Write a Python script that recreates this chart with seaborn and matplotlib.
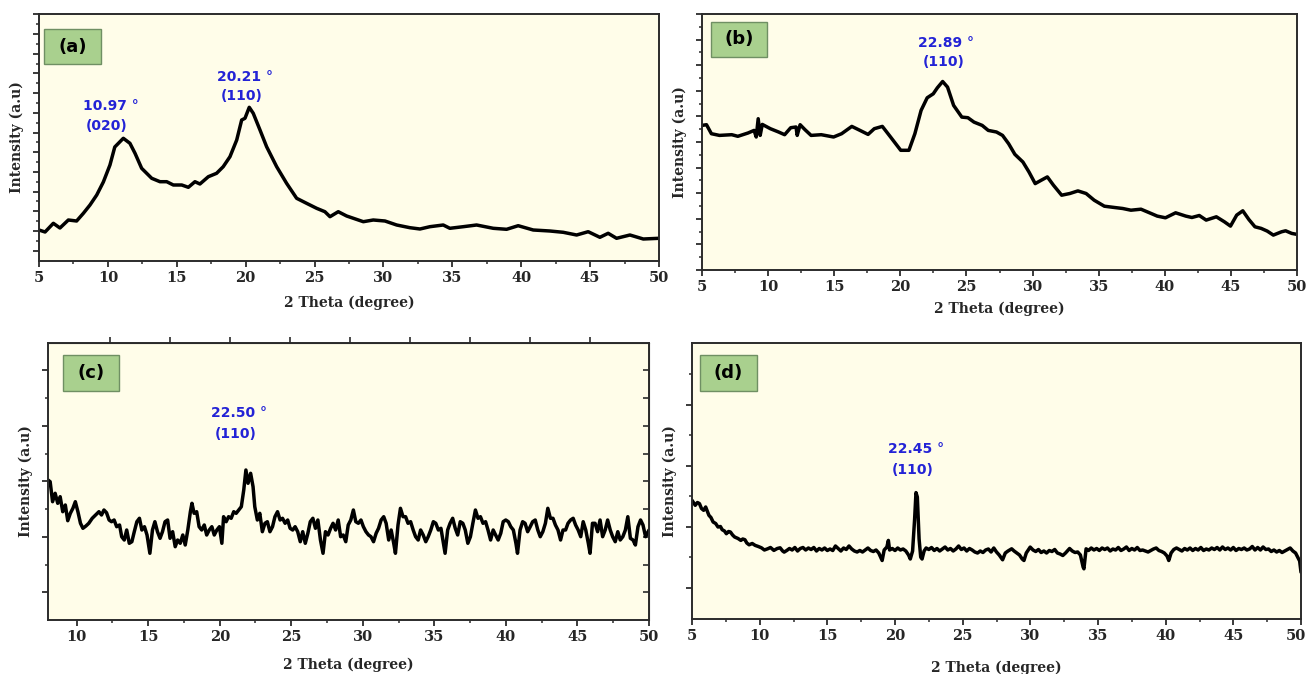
import numpy as np
import pandas as pd
import seaborn as sns
import matplotlib.pyplot as plt
from matplotlib.patches import Rectangle
from matplotlib.ticker import MultipleLocator, FixedLocator, NullFormatter
import matplotlib.transforms as mtransforms

# ---------------- data (2 theta in degree, intensity in a.u.) ----------------
a_points = [(5.00, 31), (5.44, 29), (6.04, 37.7), (6.52, 33), (7.13, 41), (7.73, 40), (8.22, 47.7),
            (8.70, 56), (9.19, 66), (9.67, 79), (10.15, 96), (10.50, 114), (11.12, 122.7), (11.60, 117.7),
            (11.97, 107.7), (12.45, 92.7), (13.18, 82.7), (13.78, 79.3), (14.27, 79.3), (14.75, 76),
            (15.36, 76), (15.84, 73.7), (16.32, 79.3), (16.68, 77), (17.29, 84.3), (17.89, 87.7),
            (18.37, 94.3), (18.86, 104.3), (19.35, 121), (19.71, 141), (19.95, 142.7), (20.26, 153.7),
            (20.55, 147.7), (21.04, 131), (21.52, 114.3), (22.25, 94.3), (22.97, 77.7), (23.70, 62.7),
            (24.42, 57.7), (25.15, 52.7), (25.75, 49.3), (26.12, 44.3), (26.72, 49.3), (27.33, 45),
            (28.54, 39.3), (29.26, 41), (30.11, 40), (30.96, 36), (31.92, 33.3), (32.65, 32), (33.37, 34.3),
            (34.34, 36), (34.82, 32.7), (35.79, 34.3), (36.76, 36), (37.97, 32.7), (38.94, 31.7),
            (39.78, 35.3), (40.87, 31), (42.08, 30), (43.05, 28.7), (44.02, 26), (44.86, 29.3),
            (45.71, 23.7), (46.31, 27.7), (46.92, 22.7), (47.89, 26), (48.86, 22), (50.00, 22.7)]

b_points = [(5.00, 144.6), (5.34, 145.3), (5.71, 136.3), (6.32, 134.6), (7.25, 135.3), (7.71, 133.7),
            (8.48, 137), (8.94, 139.6), (9.10, 133), (9.25, 151.3), (9.40, 134.6), (9.56, 145.6),
            (10.17, 141.3), (10.79, 138), (11.25, 135.3), (11.71, 142.3), (12.11, 143), (12.20, 134.6),
            (12.42, 145.3), (12.79, 140.3), (13.25, 134.6), (14.02, 135.3), (14.95, 133), (15.56, 136.3),
            (16.33, 143.6), (16.95, 139.6), (17.56, 135.6), (18.03, 141.3), (18.64, 143.6), (19.26, 133),
            (20.03, 119.7), (20.65, 119.7), (21.10, 136.3), (21.57, 159.6), (22.03, 172.2), (22.49, 176.2),
            (22.80, 182.2), (23.20, 188.5), (23.57, 182.9), (24.03, 164.6), (24.65, 152.9), (25.11, 152.3),
            (25.57, 147.9), (26.19, 144.6), (26.65, 139.6), (27.27, 138), (27.73, 134.6), (28.19, 126.3),
            (28.66, 115.7), (29.27, 108), (29.73, 98), (30.20, 86.4), (30.66, 89.8), (31.12, 93.1),
            (31.58, 84.8), (32.20, 74.8), (32.82, 76.5), (33.43, 79.1), (34.05, 76.5), (34.66, 69.8),
            (35.43, 63.8), (36.20, 62.5), (36.82, 61.5), (37.44, 59.8), (38.20, 60.8), (38.97, 56.5),
            (39.43, 53.9), (40.05, 52.2), (40.82, 57.2), (41.59, 53.9), (42.05, 52.5), (42.61, 54.5),
            (43.13, 49.9), (43.90, 53.2), (44.51, 48.2), (44.97, 43.9), (45.44, 54.9), (45.90, 59.2),
            (46.36, 50.5), (46.82, 43.2), (47.29, 41.6), (47.75, 38.9), (48.21, 34.9), (48.83, 38.2),
            (49.14, 39.2), (49.60, 36.6), (50.00, 35.6)]

c_points = [(8.00, 140), (8.15, 138.3), (8.32, 118.3), (8.50, 126.7), (8.68, 116.7), (8.85, 123.3),
            (9.03, 108.3), (9.21, 115), (9.38, 99.3), (9.56, 106.7), (9.74, 111.7), (9.91, 118.3),
            (10.09, 108.3), (10.27, 96.7), (10.44, 91.7), (10.65, 94), (10.85, 96.7), (11.09, 101.7),
            (11.33, 105), (11.56, 108.3), (11.74, 105), (11.91, 110), (12.09, 107.3), (12.27, 100),
            (12.44, 98.3), (12.62, 100), (12.80, 93.3), (13.00, 95), (13.15, 83.3), (13.33, 80),
            (13.50, 90), (13.68, 76.7), (13.86, 78.3), (14.03, 88.3), (14.21, 98.3), (14.39, 101.7),
            (14.56, 90), (14.74, 93.3), (14.92, 85), (15.12, 66.7), (15.30, 90), (15.47, 98.3),
            (15.65, 88.3), (15.83, 81.7), (16.00, 88.3), (16.18, 98.3), (16.36, 100), (16.53, 81.7),
            (16.71, 88.3), (16.89, 73.3), (17.06, 80), (17.24, 76.7), (17.42, 85), (17.59, 75),
            (17.77, 90), (17.95, 108.3), (18.06, 116.7), (18.21, 106.7), (18.39, 108.3), (18.56, 93.3),
            (18.74, 90), (18.92, 95), (19.09, 85), (19.27, 90), (19.45, 93.3), (19.62, 85), (19.80, 90),
            (19.98, 93.3), (20.15, 76.7), (20.27, 103.3), (20.45, 98.3), (20.62, 103.3), (20.80, 101.7),
            (20.98, 108.3), (21.15, 106.7), (21.33, 110), (21.51, 113.3), (21.68, 130), (21.83, 150),
            (21.98, 136.7), (22.16, 146.7), (22.33, 133.3), (22.45, 113.3), (22.63, 100), (22.80, 106.7),
            (22.98, 88.3), (23.16, 96.7), (23.33, 98.3), (23.51, 88.3), (23.69, 93.3), (23.86, 103.3),
            (24.04, 108.3), (24.22, 100), (24.39, 101.7), (24.57, 96.7), (24.75, 100), (24.92, 91.7),
            (25.10, 90), (25.27, 93.3), (25.45, 88.3), (25.63, 78.3), (25.80, 88.3), (25.98, 76.7),
            (26.16, 86.7), (26.33, 98.3), (26.51, 101.7), (26.69, 91.7), (26.86, 100), (27.04, 80),
            (27.22, 66.7), (27.39, 88.3), (27.57, 85), (27.75, 91.7), (27.92, 96.7), (28.10, 90),
            (28.28, 100), (28.45, 83.3), (28.63, 85), (28.81, 78.3), (28.98, 95), (29.16, 100),
            (29.34, 110), (29.51, 98.3), (29.69, 96.7), (29.87, 100), (30.04, 93.3), (30.22, 88.3),
            (30.40, 85), (30.57, 83.3), (30.75, 78.3), (30.93, 86.7), (31.10, 91.7), (31.28, 100),
            (31.46, 103.3), (31.63, 96.7), (31.81, 80), (31.98, 90), (32.16, 76.7), (32.28, 66.7),
            (32.46, 95), (32.63, 111.7), (32.81, 103.3), (32.99, 103.3), (33.16, 96.7), (33.34, 98.3),
            (33.52, 90), (33.69, 83.3), (33.87, 80), (34.04, 90), (34.22, 85), (34.40, 78.3),
            (34.57, 83.3), (34.75, 90), (34.93, 98.3), (35.10, 96.7), (35.28, 90), (35.46, 91.7),
            (35.63, 76.7), (35.75, 66.7), (35.93, 90), (36.10, 96.7), (36.28, 101.7), (36.46, 91.7),
            (36.63, 85), (36.81, 98.3), (36.99, 96.7), (37.16, 90), (37.34, 76.7), (37.52, 83.3),
            (37.69, 96.7), (37.87, 110), (38.05, 101.7), (38.22, 103.3), (38.40, 96.7), (38.58, 98.3),
            (38.75, 90), (38.93, 80), (39.11, 90), (39.28, 85), (39.46, 80), (39.64, 86.7),
            (39.81, 98.3), (39.99, 100), (40.17, 98.3), (40.34, 93.3), (40.52, 90), (40.70, 76.7),
            (40.81, 66.7), (40.99, 90), (41.17, 98.3), (41.34, 96.7), (41.52, 88.3), (41.70, 93.3),
            (41.87, 98.3), (42.05, 100), (42.23, 90), (42.40, 83.3), (42.58, 88.3), (42.76, 96.7),
            (42.93, 111.7), (43.11, 101.7), (43.29, 101.7), (43.46, 95), (43.64, 90), (43.82, 80),
            (43.99, 90), (44.17, 90), (44.34, 96.7), (44.52, 100), (44.70, 101.7), (44.87, 95),
            (45.05, 90), (45.23, 83.3), (45.40, 98.3), (45.58, 90), (45.76, 76.7), (45.88, 66.7),
            (46.05, 96.7), (46.23, 96.7), (46.41, 88.3), (46.58, 100), (46.76, 83.3), (46.94, 90),
            (47.11, 100), (47.29, 90), (47.46, 83.3), (47.64, 78.3), (47.82, 88.3), (47.99, 80),
            (48.17, 83.3), (48.35, 90), (48.52, 103.3), (48.70, 81.7), (48.88, 80), (49.05, 75),
            (49.23, 93.3), (49.41, 100), (49.58, 95), (49.76, 83.3), (50.00, 90)]

d_points = [(5.00, 118.7), (5.24, 113.7), (5.40, 116.5), (5.55, 115.4), (5.70, 110.5), (5.86, 108.7),
            (6.01, 112), (6.25, 103.7), (6.40, 101.5), (6.56, 97), (6.75, 95.5), (6.92, 92), (7.10, 92.5),
            (7.23, 89.3), (7.40, 88), (7.54, 85.3), (7.70, 87.5), (7.84, 87), (8.00, 84), (8.15, 82),
            (8.40, 80.5), (8.61, 78.6), (8.75, 80), (8.91, 79.3), (9.05, 76), (9.22, 74.2), (9.45, 75.5),
            (9.67, 73.6), (9.90, 72.5), (10.13, 71.2), (10.35, 69), (10.59, 70.2), (10.80, 71.5),
            (11.05, 68.6), (11.30, 70.5), (11.51, 71.2), (11.70, 68), (11.81, 66.9), (12.00, 68.5),
            (12.20, 70.5), (12.40, 69), (12.60, 71.5), (12.80, 68), (13.00, 70.5), (13.20, 71.5),
            (13.40, 69), (13.60, 71), (13.80, 69.5), (14.00, 71.5), (14.20, 68), (14.40, 70.5),
            (14.60, 69), (14.80, 71), (15.00, 68.5), (15.20, 70), (15.40, 68.5), (15.60, 73),
            (15.80, 70.5), (16.00, 68), (16.20, 71), (16.40, 69.5), (16.60, 73), (16.80, 70), (17.00, 68),
            (17.20, 67), (17.40, 68.5), (17.60, 67), (17.80, 69), (18.00, 71), (18.20, 68.5),
            (18.40, 67.5), (18.60, 69), (18.80, 66), (19.05, 58.5), (19.20, 69), (19.40, 72),
            (19.51, 78.6), (19.60, 69), (19.80, 70.5), (20.00, 68.5), (20.20, 71), (20.40, 69),
            (20.60, 70), (20.80, 68), (21.00, 64), (21.13, 60), (21.30, 68), (21.45, 100), (21.55, 126.4),
            (21.65, 122), (21.78, 80), (21.90, 61.9), (22.00, 60), (22.15, 68), (22.30, 71), (22.50, 69.5),
            (22.70, 71.5), (22.90, 68.5), (23.10, 70.5), (23.30, 68), (23.50, 70), (23.70, 72),
            (23.90, 69), (24.10, 70.5), (24.30, 68), (24.50, 70), (24.70, 73), (24.90, 69.5), (25.10, 71),
            (25.30, 68), (25.50, 70.5), (25.70, 69), (25.90, 67), (26.10, 66), (26.30, 68), (26.50, 66.5),
            (26.70, 69), (26.90, 70), (27.10, 67), (27.30, 71), (27.50, 67), (27.70, 64), (27.95, 59.2),
            (28.15, 66), (28.35, 68), (28.62, 70.2), (28.80, 68), (29.00, 66), (29.20, 64), (29.40, 60),
            (29.53, 58.5), (29.70, 66), (29.99, 71.9), (30.20, 69), (30.40, 67.5), (30.60, 69.5),
            (30.80, 66.5), (31.00, 68), (31.20, 66), (31.40, 68.5), (31.60, 67.5), (31.80, 69.5),
            (32.00, 66), (32.20, 65), (32.40, 63.5), (32.60, 66), (32.90, 70.5), (33.10, 68),
            (33.30, 66.5), (33.50, 67), (33.70, 64), (33.90, 52), (33.96, 50.2), (34.05, 62),
            (34.12, 70.2), (34.30, 68.5), (34.50, 71), (34.70, 69), (34.90, 70.5), (35.10, 68.5),
            (35.30, 71), (35.50, 69.5), (35.70, 71), (35.90, 68), (36.10, 70), (36.30, 69), (36.50, 71.5),
            (36.70, 68.5), (36.90, 70), (37.10, 72), (37.30, 68.5), (37.50, 70.5), (37.70, 69),
            (37.90, 71.5), (38.10, 68.5), (38.30, 69), (38.50, 68), (38.70, 67), (38.90, 68.5),
            (39.10, 70), (39.30, 71), (39.50, 68.5), (39.70, 67.5), (39.90, 66), (40.10, 63),
            (40.23, 58.5), (40.40, 66), (40.60, 69.5), (40.80, 71), (41.00, 69.5), (41.20, 68),
            (41.40, 70.5), (41.60, 69), (41.80, 71), (42.00, 68.5), (42.20, 70.5), (42.40, 69),
            (42.60, 71.5), (42.80, 68.5), (43.00, 70), (43.20, 69), (43.40, 71), (43.60, 69.5),
            (43.80, 71.5), (44.00, 69), (44.20, 72), (44.40, 69.5), (44.60, 71), (44.80, 69),
            (45.00, 71.5), (45.20, 68.5), (45.40, 70.5), (45.60, 69.5), (45.80, 71), (46.00, 69),
            (46.20, 70), (46.40, 72.5), (46.60, 69), (46.80, 71.5), (47.00, 69), (47.20, 72),
            (47.40, 69.5), (47.60, 70), (47.80, 67.5), (48.00, 69), (48.20, 67), (48.40, 68.5),
            (48.60, 66.5), (48.80, 68), (49.00, 69.5), (49.20, 71), (49.40, 68), (49.60, 66),
            (49.75, 62), (49.90, 58), (50.00, 46.8)]

panel_labels = ["(a)", "(b)", "(c)", "(d)"]
peak_angles = [["10.97 \u00b0", "20.21 \u00b0"], ["22.89 \u00b0"], ["22.50 \u00b0"], ["22.45 \u00b0"]]
peak_planes = [["(020)", "(110)"], ["(110)"], ["(110)"], ["(110)"]]
x_tick_values = [5, 10, 15, 20, 25, 30, 35, 40, 45, 50]
c_top_ticks = [12.3, 16.5, 20.7, 24.9, 29.1, 33.3, 37.5, 41.7, 45.9]
x_label = "2 Theta (degree)"
y_label = "Intensity (a.u)"

# ---------------- style ----------------
sns.set_style("ticks")
plt.rcParams['font.family'] = ['DejaVu Serif']
plt.rcParams['font.weight'] = 'bold'

W, H = 1308, 674
fig = plt.figure(figsize=(W / 100, H / 100), dpi=100)
fig.patch.set_facecolor('white')

BG = '#fffde9'
BLUE = '#2323d6'
SPINE = '#2b2b2b'


def px_axes(l, t, r, b):
    return fig.add_axes([l / W, 1 - b / H, (r - l) / W, (b - t) / H])


def label_box(l, t, r, b, text):
    fig.add_artist(Rectangle((l / W, 1 - b / H), (r - l) / W, (b - t) / H,
                             transform=fig.transFigure, facecolor='#a9d08e',
                             edgecolor='#6f8f63', linewidth=1.0, zorder=5))
    fig.text((l + r) / 2 / W, 1 - (t + b) / 2 / H, text, ha='center', va='center',
             fontsize=13, family='DejaVu Sans', fontweight='bold', color='black', zorder=6)


panels = [
    dict(pts=a_points, box=(39, 14, 659, 261), xlim=(5, 50), ylim=(0, 247),
         ymaj=[10.3 + 19.7 * k for k in range(13)], ymin=[20.15 + 19.7 * k for k in range(12)],
         lbl=(44, 29, 101, 64),
         ann=[(10.2, 155, 9.9, 135), (19.95, 184, 19.7, 165)], xlp=8, extra=False),
    dict(pts=b_points, box=(702, 14, 1297, 270), xlim=(5, 50), ylim=(0, 256),
         ymaj=[25.6 * k for k in range(11)], ymin=[12.8 + 25.6 * k for k in range(10)],
         lbl=(711, 22, 767, 57),
         ann=[(23.45, 227, 23.25, 208)], xlp=6, extra=False),
    dict(pts=c_points, box=(48, 343, 649, 620), xlim=(8, 50), ylim=(0, 277),
         ymaj=[27.7 + 55.5 * k for k in range(5)], ymin=[55.45 + 55.5 * k for k in range(4)],
         lbl=(63, 355, 119, 391),
         ann=[(21.35, 207, 21.1, 186)], xlp=10, extra=True),
    dict(pts=d_points, box=(692, 343, 1301, 619), xlim=(5, 50), ylim=(0, 276),
         ymaj=[30.7 + 61 * k for k in range(4)], ymin=[61.7 + 61 * k for k in range(4)],
         lbl=(700, 355, 757, 391),
         ann=[(21.55, 170, 21.3, 149)], xlp=13, extra=False),
]

for i, p in enumerate(panels):
    ax = px_axes(*p['box'])
    df = pd.DataFrame(p['pts'], columns=['theta', 'intensity'])
    sns.lineplot(data=df, x='theta', y='intensity', ax=ax, color='black',
                 linewidth=2.5, estimator=None, sort=False)
    ax.set_facecolor(BG)
    ax.set_xlim(*p['xlim'])
    ax.set_ylim(*p['ylim'])
    ax.xaxis.set_major_locator(FixedLocator([v for v in x_tick_values if v >= p['xlim'][0]]))
    ax.xaxis.set_minor_locator(MultipleLocator(2.5))
    ax.yaxis.set_major_locator(FixedLocator(p['ymaj']))
    ax.yaxis.set_minor_locator(FixedLocator(p['ymin']))
    ax.yaxis.set_major_formatter(NullFormatter())
    for s in ax.spines.values():
        s.set_visible(True)
        s.set_color(SPINE)
        s.set_linewidth(1.4)
    ax.tick_params(axis='both', which='major', direction='out', length=4.5, width=1.3,
                   color=SPINE, labelsize=10.5, pad=2.5)
    ax.tick_params(axis='both', which='minor', direction='out', length=2.5, width=1.1,
                   color=SPINE)
    if p['extra']:
        top = ax.secondary_xaxis('top')
        top.xaxis.set_major_locator(FixedLocator(c_top_ticks))
        top.xaxis.set_major_formatter(NullFormatter())
        top.tick_params(direction='out', length=4, width=1.2, color=SPINE)
        right = ax.secondary_yaxis('right')
        right.yaxis.set_major_locator(FixedLocator(p['ymaj'] + p['ymin']))
        right.yaxis.set_major_formatter(NullFormatter())
        right.tick_params(direction='in', length=4, width=1.2, color=SPINE)
    labels = ax.get_xticklabels()
    for t in labels:
        t.set_fontweight('bold')
    if i == 3:
        off = mtransforms.ScaledTranslation(-4 / 72, 0, fig.dpi_scale_trans)
        labels[-1].set_transform(labels[-1].get_transform() + off)
    ax.set_xlabel(x_label, fontsize=10, fontweight='bold', labelpad=p['xlp'])
    ax.set_ylabel(y_label, fontsize=10, fontweight='bold', labelpad=4)
    for (j, (xa, ya, xp, yp)) in enumerate(p['ann']):
        ax.text(xa, ya, peak_angles[i][j], color=BLUE, ha='center', va='center',
                fontsize=10, family='DejaVu Sans', fontweight='bold')
        ax.text(xp, yp, peak_planes[i][j], color=BLUE, ha='center', va='center',
                fontsize=10, family='DejaVu Sans', fontweight='bold')
    label_box(*p['lbl'], panel_labels[i])

fig.savefig('out.png', dpi=100, facecolor='white')
